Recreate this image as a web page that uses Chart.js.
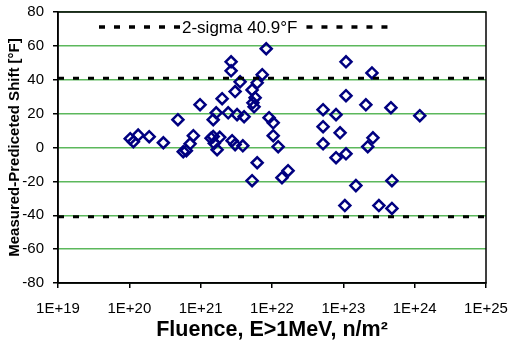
<!DOCTYPE html>
<html>
<head>
<meta charset="utf-8">
<script src="https://cdn.jsdelivr.net/npm/chart.js@4.4.0/dist/chart.umd.min.js"></script>
<style>
  html, body { margin: 0; padding: 0; background: #fff; }
  #wrap { width: 509px; height: 345px; }
</style>
</head>
<body>
<div id="wrap"><canvas id="shiftChart" width="509" height="345"></canvas></div>
<script>
// fluence E>1MeV (n/m^2) and measured minus predicted shift (F)
const fluence = [
  1.03e20, 1.14e20, 1.33e20, 1.9e20, 3.0e20, 4.8e20, 5.7e20, 6.3e20, 7.1e20, 7.9e20,
  9.8e20, 1.4e21, 1.5e21, 1.55e21, 1.85e21, 1.7e21, 1.5e21, 1.65e21, 2.0e21, 2.43e21,
  2.67e21, 2.67e21, 2.76e21, 3.04e21, 3.04e21, 3.24e21, 3.57e21, 3.9e21, 4.06e21, 5.26e21,
  5.4e21, 5.6e21, 5.8e21, 6.2e21, 5.26e21, 6.2e21, 7.3e21, 8.3e21, 9.1e21, 1.04e22,
  1.04e22, 1.22e22, 1.38e22, 1.68e22, 5.2e22, 5.2e22, 5.2e22, 7.9e22, 7.9e22, 9.0e22,
  1.05e23, 1.09e23, 1.09e23, 1.09e23, 1.5e23, 2.07e23, 2.2e23, 2.52e23, 2.6e23, 3.15e23,
  4.65e23, 4.8e23, 4.8e23, 1.18e24
];
const shift = [
  5.2, 3.4, 7.3, 6.4, 2.8, 16.4, -2.5, -1.9, 2.2, 7,
  25.3, 5.5, 6.5, 2.5, 6, -1.3, 16.4, 20.5, 28.8, 20.5,
  50.6, 45.3, 4, 1.7, 33, 19.4, 38.8, 1, 18.2, 34,
  26.4, 24, 29.4, 38.2, -19.6, -9, 43, 58.3, 17.6, 14.6,
  7, 0.5, -17.8, -13.7, 22.3, 12.3, 2.2, 19.4, -6, 8.7,
  -34.3, 50.6, 30.6, -3.7, -22.5, 25.2, 0.5, 44, 5.7, -34.3,
  23.5, -19.6, -36, 18.8
];

const sigma = 40.9;
const sigmaLabel = '2-sigma 40.9°F';

const xTickValues = [1e19, 1e20, 1e21, 1e22, 1e23, 1e24, 1e25];
const xTickLabels = ['1E+19', '1E+20', '1E+21', '1E+22', '1E+23', '1E+24', '1E+25'];
const yMin = -80, yMax = 80, yStep = 20;

const fontFamily = "Arial, 'Liberation Sans', sans-serif";

const points = fluence.map((f, i) => ({x: f, y: shift[i]}));

// black frame round the plot area and the dashed sigma key at its top
const frameAndKey = {
  id: 'frameAndKey',
  beforeDatasetsDraw(chart) {
    const {ctx, chartArea: a} = chart;
    ctx.save();
    ctx.strokeStyle = '#000';
    ctx.lineWidth = 1.5;
    ctx.strokeRect(a.left, a.top, a.right - a.left, a.bottom - a.top);
    ctx.restore();
  },
  afterDatasetsDraw(chart) {
    const {ctx, chartArea: a} = chart;
    const y = a.top + 15;
    const segLen = 81;
    const left = a.left + 41;
    ctx.save();
    ctx.font = '17px ' + fontFamily;
    const textW = ctx.measureText(sigmaLabel).width;
    ctx.strokeStyle = '#000';
    ctx.lineWidth = 3.5;
    ctx.setLineDash([6, 9]);
    ctx.beginPath();
    ctx.moveTo(left, y);
    ctx.lineTo(left + segLen, y);
    const rightStart = left + segLen + 2 + textW + 9;
    ctx.moveTo(rightStart, y);
    ctx.lineTo(rightStart + segLen, y);
    ctx.stroke();
    ctx.setLineDash([]);
    ctx.fillStyle = '#000';
    ctx.textBaseline = 'middle';
    ctx.fillText(sigmaLabel, left + segLen + 2, y + 1);
    ctx.restore();
  }
};

let ctx = document.getElementById('shiftChart');

new Chart(ctx, {
  type: 'scatter',
  data: {
    datasets: [
      {
        type: 'line',
        data: [{x: xTickValues[0], y: sigma}, {x: xTickValues[xTickValues.length - 1], y: sigma}],
        borderColor: '#000',
        borderWidth: 3,
        borderDash: [6, 9],
        pointRadius: 0,
        fill: false
      },
      {
        type: 'line',
        data: [{x: xTickValues[0], y: -sigma}, {x: xTickValues[xTickValues.length - 1], y: -sigma}],
        borderColor: '#000',
        borderWidth: 3,
        borderDash: [6, 9],
        pointRadius: 0,
        fill: false
      },
      {
        label: 'shift',
        data: points,
        pointStyle: 'rectRot',
        pointRadius: 5.5,
        pointHoverRadius: 5.5,
        borderWidth: 2.5,
        borderColor: '#000080',
        backgroundColor: 'rgba(0,0,0,0)'
      }
    ]
  },
  options: {
    responsive: false,
    animation: false,
    layout: {autoPadding: false, padding: {top: 12, right: 23, left: 0, bottom: 0}},
    scales: {
      x: {
        type: 'logarithmic',
        min: xTickValues[0],
        max: xTickValues[xTickValues.length - 1],
        afterBuildTicks: function(axis) {
          axis.ticks = xTickValues.map(v => ({value: v}));
        },
        afterFit: function(scale) {
          scale.height = 62;
          scale.paddingLeft = 0;
          scale.paddingRight = 0;
        },
        ticks: {
          autoSkip: false,
          maxRotation: 0,
          padding: 12,
          color: '#000',
          font: {family: fontFamily, size: 15},
          callback: function(value, index) {
            return xTickLabels[index];
          }
        },
        grid: {
          drawOnChartArea: false,
          drawTicks: true,
          tickLength: 5,
          color: '#000',
          lineWidth: 1.5
        },
        border: {display: true, color: '#000', width: 1.5},
        title: {
          display: true,
          text: 'Fluence, E>1MeV, n/m²',
          color: '#000',
          font: {family: fontFamily, size: 21.5, weight: 'bold'},
          padding: {top: 0, bottom: 2}
        }
      },
      y: {
        min: yMin,
        max: yMax,
        afterFit: function(scale) {
          scale.width = 58;
          scale.paddingTop = 0;
          scale.paddingBottom = 0;
        },
        ticks: {
          stepSize: yStep,
          padding: 9,
          color: '#000',
          font: {family: fontFamily, size: 15}
        },
        grid: {
          color: '#5cb85c',
          lineWidth: 1.5,
          drawTicks: true,
          tickLength: 5,
          tickColor: '#000',
          tickWidth: 1.5
        },
        border: {display: true, color: '#000', width: 1.5},
        title: {
          display: true,
          text: 'Measured-Prediceted Shift [°F]',
          color: '#000',
          font: {family: fontFamily, size: 15, weight: 'bold'},
          padding: {top: 6, bottom: 0}
        }
      }
    },
    plugins: {
      legend: {display: false},
      tooltip: {enabled: false}
    }
  },
  plugins: [frameAndKey]
});
</script>
</body>
</html>
